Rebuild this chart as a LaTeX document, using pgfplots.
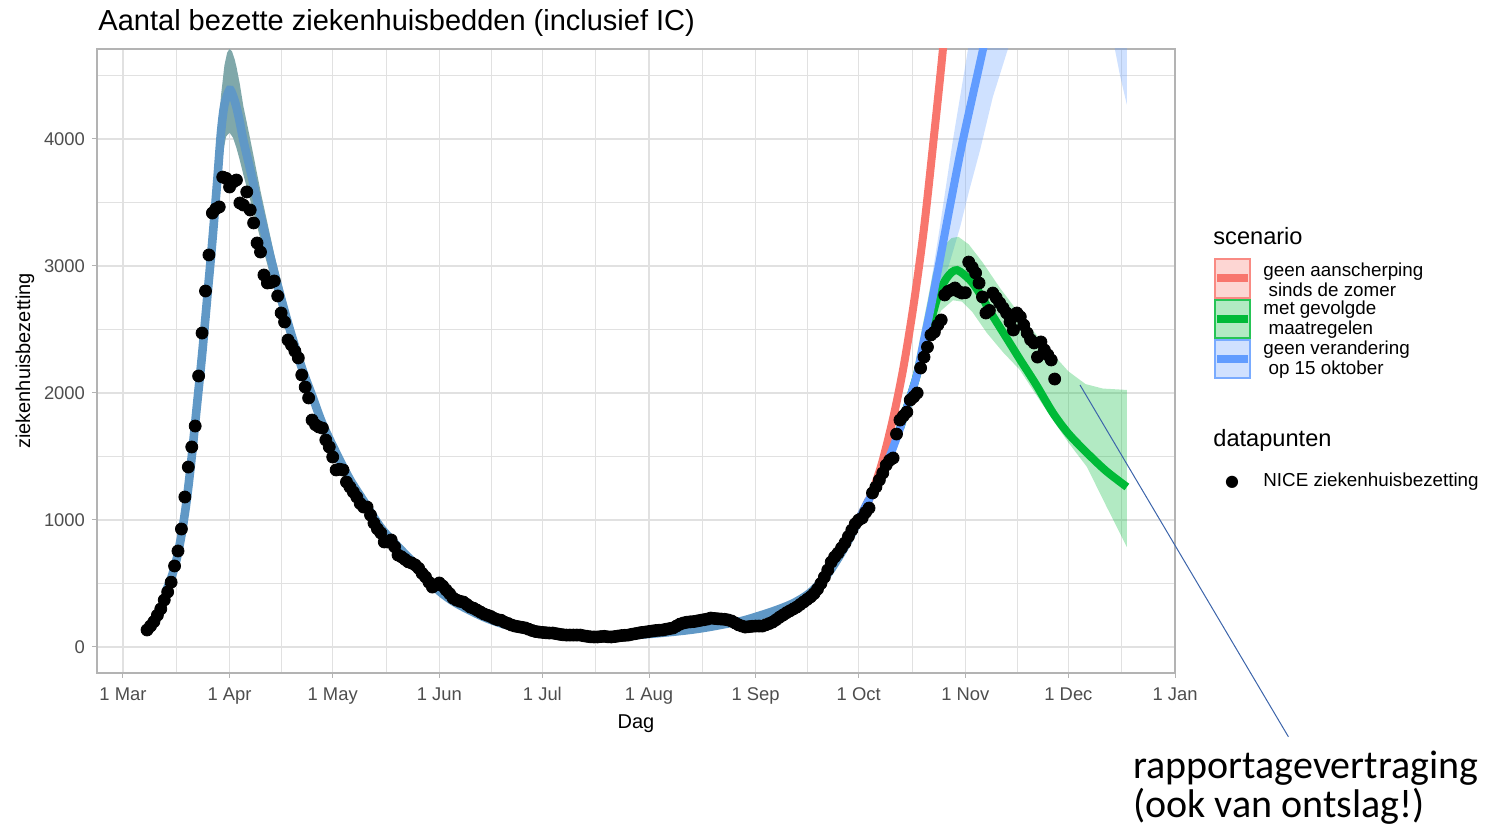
\documentclass[border=0pt]{standalone}
\usepackage{pgfplots}
\pgfplotsset{compat=1.18}
\usepackage{fontspec}
\setmainfont{Liberation Sans}
\newfontfamily\calfont{Carlito}
\newfontfamily\symfont{DejaVu Sans}

\definecolor{gridc}{RGB}{225,225,225}
\definecolor{framec}{RGB}{179,179,179}
\definecolor{tickc}{RGB}{77,77,77}
\definecolor{redl}{RGB}{248,118,109}
\definecolor{greenl}{RGB}{0,186,56}
\definecolor{bluel}{RGB}{97,156,255}
\definecolor{earlyl}{RGB}{96,152,198}
\definecolor{earlyr}{RGB}{128,168,170}
\definecolor{annot}{RGB}{60,100,170}

\begin{document}
\begin{tikzpicture}
\useasboundingbox (-48.5pt,-83pt) rectangle (695pt,336.5pt);
\begin{axis}[
  width=539pt, height=312pt, scale only axis,
  xmin=-7.56, xmax=306, ymin=-204.7, ymax=4708.7,
  axis line style={draw=framec, line width=0.6pt},
  xtick={0,31,61,92,122,153,184,214,245,275,306},
  xticklabels={1 Mar,1 Apr,1 May,1 Jun,1 Jul,1 Aug,1 Sep,1 Oct,1 Nov,1 Dec,1 Jan},
  minor xtick={15.5,46,76.5,107,137.5,168.5,199,229.5,260,290.5},
  ytick={0,1000,2000,3000,4000},
  minor ytick={500,1500,2500,3500,4500},
  grid=both,
  major grid style={draw=gridc, line width=0.55pt},
  minor grid style={draw=gridc, line width=0.35pt},
  tick align=outside, major tick length=2.5pt, minor tick length=0pt,
  tick style={draw=framec, line width=0.5pt},
  tick pos=left,
  ticklabel style={font=\fontsize{9.2}{10}\selectfont, text=tickc},
  xticklabel style={text height=6.6pt, text depth=2pt, yshift=-1.2pt},
  /pgf/number format/assume math mode=true,
  /pgf/number format/1000 sep={},
  xlabel={Dag}, ylabel={ziekenhuisbezetting},
  label style={font=\fontsize{11.8}{13}\selectfont},
  every axis x label/.style={at={(axis description cs:0.5,-0.081)}, anchor=center},
  every axis y label/.style={at={(axis description cs:-0.0668,0.5)}, rotate=90, anchor=center},
  title={Aantal bezette ziekenhuisbedden (inclusief IC)},
  every axis title/.style={at={(axis description cs:0.001,1.0417)}, anchor=west, inner sep=0pt, font=\fontsize{14.5}{16}\selectfont},
]
% ---------- early common ribbon (upper forward, lower backward)
\addplot[fill=earlyr, draw=none] table {
x y
12.5 455
14 560
15.5 705
17 915
18.5 1200
20 1570
21.5 1995
23 2425
24.5 2910
26 3400
27.5 3960
28.5 4340
29.5 4580
30.3 4680
31 4709
31.7 4690
32.5 4625
33 4570
34 4430
35 4260
37 4000
40 3590
44 3090
48 2655
52 2280
55 2045
58 1815
62 1575
66 1358
70 1182
75 965
80 810
85 667
88 564
92 452
96 370
100 309
105 242
110 191
115 155
120 122
125 104
130 94
135 89
140 88
145 92
150 100
155 112
160 125
165 141
170 162
175 188
180 214
185 256
190 303
195 360
200 449
205 600
210 824
214 1043
217 1210
217 1110
214 957
210 756
205 550
200 411
195 330
190 277
185 234
180 196
175 172
170 148
165 129
160 115
155 102
150 92
145 84
140 80
135 81
130 86
125 96
120 114
115 145
110 179
105 228
100 291
96 350
92 428
88 536
85 633
80 770
75 915
70 1118
66 1282
62 1485
58 1705
55 1915
52 2120
48 2445
44 2810
40 3210
37 3520
35 3720
34 3830
33 3930
32 4010
31 4050
30 4020
29.5 3950
28.5 3760
27.5 3450
26 3000
24.5 2590
23 2175
21.5 1805
20 1430
18.5 1100
17 845
15.5 655
14 520
12.5 425
} -- cycle;
% ---------- blue ribbon
\addplot[fill=bluel, fill opacity=0.3, draw=none] table {
x y
226 1740
230 2120
233.9 2677
237.6 3307
241.4 3992
245.8 4709
248 5100
262 5200
262 5000
257.4 4709
253 4330
249.3 3913
246 3580
243.5 3307
240.5 3030
237.6 2787
233.9 2496
230 2040
226 1700
} -- cycle;
\addplot[fill=bluel, fill opacity=0.3, draw=none] table {
x y
286.5 5200
288.5 4709
290 4500
292 4270
292 5200
} -- cycle;
% ---------- green ribbon
\addplot[fill=greenl, fill opacity=0.3, draw=none] table {
x y
228 1900
232 2450
235.6 2945
238.5 3150
241 3220
243 3230
246 3170
250 3030
255 2830
260 2650
265 2480
270 2320
275 2170
280 2070
285 2035
292 2024
292 787
286 1110
280.4 1417
275 1610
270.5 1787
265.5 1990
260.9 2181
256 2320
251.3 2472
247 2640
244 2720
241.4 2730
238 2650
235 2480
232 2250
228 1840
} -- cycle;
% ---------- lines
\addplot[earlyl, line width=4.3pt, smooth] table {
x y
12.5 440
14 540
15.5 680
17 880
18.5 1150
20 1500
21.5 1900
23 2300
24.5 2750
26 3200
27.5 3700
28.5 4050
29.5 4270
31 4386
32 4340
33 4250
34 4130
35 3990
37 3760
40 3400
44 2950
48 2550
52 2200
55 1980
58 1760
62 1530
66 1320
70 1150
75 940
80 790
85 650
88 550
92 440
96 360
100 300
105 235
110 185
115 150
120 118
125 100
130 90
135 85
140 84
145 88
150 96
155 107
160 120
165 135
170 155
175 180
180 205
185 245
190 290
195 345
200 430
205 575
210 790
214 1000
217 1160
};
\addplot[redl, line width=4pt, smooth] table {
x y
214 1000
217 1160
219 1300
221 1472
224 1800
227 2200
230 2700
233 3300
236 4050
238.5 4709
240 5200
};
\addplot[greenl, line width=4pt, smooth] table {
x y
226 1720
229 1970
231 2150
233 2380
234.7 2540
237 2760
239 2880
241 2950
242.6 2968
244.5 2935
247 2870
250 2750
252 2650
255 2520
258 2390
261 2260
265.5 2070
270.5 1843
275 1680
280.4 1528
286 1385
292 1260
};
\addplot[bluel, line width=4pt, smooth] table {
x y
214 1000
217 1160
220 1320
223 1500
226 1720
229 1970
231 2150
233 2420
235 2680
237 2960
240.5 3465
244.3 3990
250.1 4700
252 4950
};
% ---------- data points
\addplot[only marks, mark=*, mark size=3pt, mark options={fill=black, draw=black}] table {
x y
7 134
8 165
9 200
10 250
11 300
12 370
13 433
14 510
15 638
16 756
17 929
18 1181
19 1417
20 1575
21 1740
22 2134
23 2472
24 2803
25 3087
26 3417
27 3450
28 3465
29 3700
30 3690
31 3622
32 3660
33 3677
34 3496
35 3480
36 3583
37 3441
38 3339
39 3181
40 3110
41 2929
42 2866
43 2870
44 2882
45 2764
46 2630
47 2559
48 2417
49 2378
50 2330
51 2276
52 2142
53 2047
54 1961
55 1787
56 1750
57 1732
58 1724
59 1630
60 1575
61 1496
62 1394
63 1400
64 1394
65 1299
66 1260
67 1220
68 1181
69 1130
70 1102
71 1102
72 1039
73 976
74 930
75 898
76 827
77 827
78 843
79 790
80 724
81 710
82 690
83 670
84 661
85 646
86 620
87 580
88 551
89 510
90 472
91 490
92 504
93 480
94 449
95 420
96 386
97 370
98 360
99 354
100 335
101 315
102 305
103 290
104 275
105 260
106 250
107 240
108 225
109 215
110 210
111 195
112 185
113 173
114 165
115 160
116 155
117 150
118 140
119 130
120 122
121 118
122 115
123 112
124 110
125 110
126 105
127 100
128 96
129 94
130 94
131 94
132 94
133 94
134 88
135 84
136 80
137 79
138 79
139 82
140 84
141 80
142 79
143 82
144 86
145 90
146 92
147 94
148 100
149 105
150 110
151 115
152 118
153 122
154 126
155 130
156 132
157 134
158 140
159 145
160 150
161 165
162 180
163 189
164 195
165 198
166 200
167 205
168 210
169 215
170 220
171 228
172 225
173 222
174 220
175 218
176 213
177 205
178 190
179 175
180 165
181 157
182 160
183 163
184 165
185 165
186 165
187 175
188 185
189 197
190 215
191 235
192 252
193 270
194 285
195 300
196 315
197 335
198 355
199 375
200 395
201 420
202 455
203 500
204 550
205 606
206 669
207 709
208 740
209 780
210 819
211 870
212 921
213 970
214 1000
215 1016
216 1060
217 1094
218 1213
219 1260
220 1315
221 1370
222 1433
223 1470
224 1488
225 1677
226 1787
227 1820
228 1850
229 1945
230 1970
231 2000
232 2197
233 2283
234 2362
235 2457
236 2480
237 2535
238 2575
239 2772
240 2800
241 2811
242 2827
243 2800
244 2787
245 2790
246 3031
247 2990
248 2945
249 2866
250 2756
251 2630
252 2650
253 2787
254 2750
255 2709
256 2670
257 2630
258 2560
259 2496
260 2630
261 2600
262 2535
263 2472
264 2420
265 2394
266 2283
267 2402
268 2339
269 2300
270 2260
271 2110
};
\end{axis}
% ---------- annotation
\draw[annot, line width=0.5pt] (491.5pt,144pt) -- (595.7pt,-31.9pt);
\node[anchor=base west, inner sep=0pt, font=\calfont\fontsize{20}{22}\selectfont] at (518pt,-53pt) {rapportagevertraging};
\node[anchor=base west, inner sep=0pt, font=\calfont\fontsize{20}{22}\selectfont] at (518pt,-72.5pt) {(ook van ontslag!)};
% ---------- legend
\node[anchor=west, inner sep=0pt, font=\fontsize{11.8}{13}\selectfont] at (558pt,218.5pt) {scenario};
\fill[redl!30] (559pt,187.5pt) rectangle (576.5pt,207pt);
\draw[redl!85, line width=0.8pt] (559pt,187.5pt) rectangle (576.5pt,207pt);
\draw[redl, line width=4pt] (560pt,197.25pt) -- (575.5pt,197.25pt);
\fill[greenl!30] (559pt,167.5pt) rectangle (576.5pt,186.5pt);
\draw[greenl!85, line width=0.8pt] (559pt,167.5pt) rectangle (576.5pt,186.5pt);
\draw[greenl, line width=4pt] (560pt,177pt) -- (575.5pt,177pt);
\fill[bluel!30] (559pt,147.5pt) rectangle (576.5pt,166.5pt);
\draw[bluel!85, line width=0.8pt] (559pt,147.5pt) rectangle (576.5pt,166.5pt);
\draw[bluel, line width=4pt] (560pt,157pt) -- (575.5pt,157pt);
\node[anchor=west, inner sep=0pt, align=left, font=\fontsize{9.4}{10}\selectfont] at (583pt,196.75pt) {geen aanscherping\\\hspace*{2.6pt}sinds de zomer};
\node[anchor=west, inner sep=0pt, align=left, font=\fontsize{9.4}{10}\selectfont] at (583pt,176.5pt) {met gevolgde\\\hspace*{2.6pt}maatregelen};
\node[anchor=west, inner sep=0pt, align=left, font=\fontsize{9.4}{10}\selectfont] at (583pt,156.5pt) {geen verandering\\\hspace*{2.6pt}op 15 oktober};
\node[anchor=west, inner sep=0pt, font=\fontsize{11.8}{13}\selectfont] at (558pt,116.5pt) {datapunten};
\node[inner sep=0pt, font=\symfont\fontsize{8}{9}\selectfont] at (567.5pt,95.5pt) {●};
\node[anchor=west, inner sep=0pt, font=\fontsize{9.4}{10}\selectfont] at (583pt,95.5pt) {NICE ziekenhuisbezetting};
\end{tikzpicture}
\end{document}
